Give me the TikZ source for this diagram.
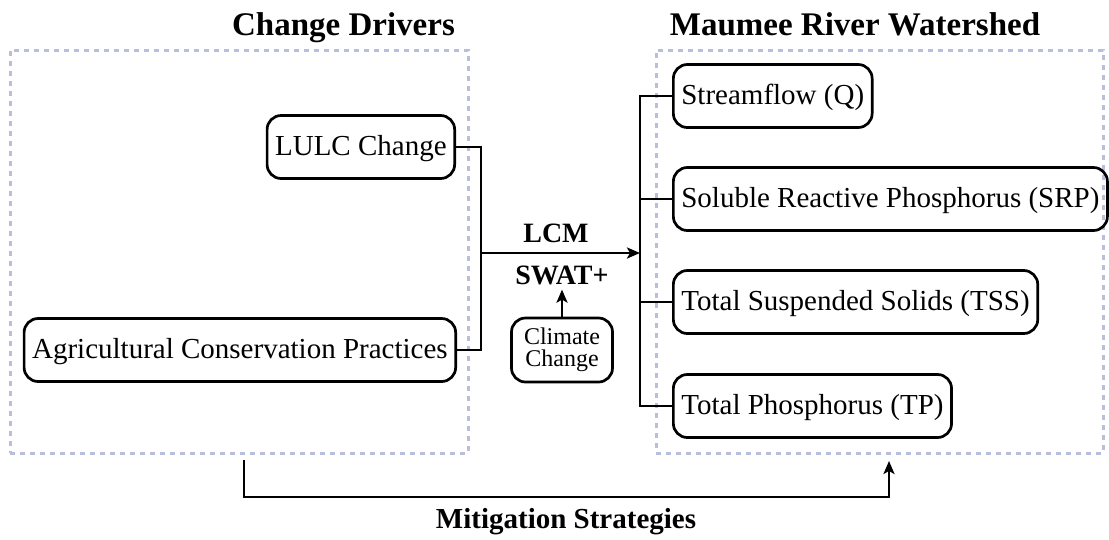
\documentclass[tikz,border=0pt]{standalone}
\usepackage{fontspec}
\setmainfont{LiberationSerif}[Extension=.ttf, UprightFont=*-Regular, BoldFont=*-Bold]
\usetikzlibrary{arrows.meta,positioning}
\definecolor{framegray}{RGB}{186,190,222}

\begin{document}
\begin{tikzpicture}[x=1pt, y=-1pt,
    box/.style={draw, line width=2.7pt, rounded corners=14pt, inner xsep=8pt, minimum height=63pt,
      text height=21pt, text depth=4pt, font=\fontsize{29}{32}\selectfont},
    frame/.style={draw=framegray, line width=3pt, dash pattern=on 5pt off 5pt, inner sep=0pt},
    title/.style={font=\fontsize{33}{36}\selectfont\bfseries, anchor=base},
    lbl/.style={font=\fontsize{28}{30}\selectfont\bfseries, anchor=base, inner sep=5pt},
    conn/.style={line width=2.7pt},
    arr/.style={conn, -{Stealth[length=13pt, width=11pt, inset=3pt]}}]
  \useasboundingbox (0,0) rectangle (1109,539);
  % frames and titles
  \node[frame, minimum width=458pt, minimum height=403pt] (drivers) at (239,251.5) {};
  \node[frame, minimum width=447pt, minimum height=403pt] (watershed) at (879.5,251.5) {};
  \node[title] (drvtitle) at (343.5,35) {Change Drivers};
  \node[title] (wstitle) at (855,35) {Maumee River Watershed};
  % drivers
  \node[box, anchor=east] (lulc) at (456,147) {LULC Change};
  \node[box, anchor=east] (acp) at (457,350) {Agricultural Conservation Practices};
  % responses
  \foreach \txt/\nm/\yy in {Streamflow (Q)/q/96, Soluble Reactive Phosphorus (SRP)/srp/199,
      Total Suspended Solids (TSS)/tss/302, Total Phosphorus (TP)/tp/406}
    \node[box, anchor=west] (\nm) at (672,\yy) {\txt};
  \node[box, font=\fontsize{24}{22}\selectfont, text height=, text depth=, align=center,
    minimum width=101pt, minimum height=64pt, inner xsep=4pt] (climate) at (562,350) {Climate\\Change};
  \node[lbl] (lcm) at (556,242) {LCM};
  \node[lbl] (swat) at (562,284) {SWAT+};
  \coordinate (join) at (481,253);
  \coordinate (split) at (640,253);
  % connectors
  \draw[conn] (lulc.east) -| (join) |- (acp.east);
  \draw[arr] (join) -- (split);
  \draw[conn] (q.west) -| (split) |- (tp.west);
  \foreach \nm in {srp,tss}
    \draw[conn] (\nm.west) -- (split |- \nm.west);
  \draw[arr] (climate.north) -- (swat.south);
  \draw[arr] ([xshift=5pt,yshift=-5.5pt]drivers.south) -- ++(0,37) -| ([xshift=9.5pt,yshift=-6.5pt]watershed.south);
  \node[title, font=\fontsize{29}{32}\selectfont\bfseries] (mitig) at (566,528) {Mitigation Strategies};
\end{tikzpicture}
\end{document}
